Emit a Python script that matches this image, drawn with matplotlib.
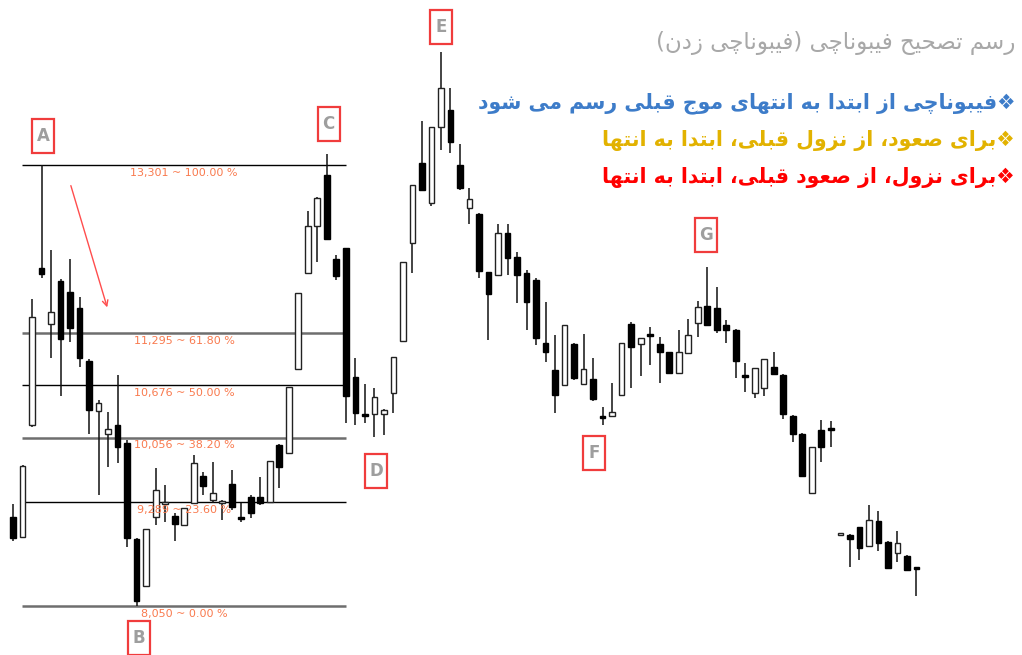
import numpy as np
import matplotlib
matplotlib.use("Agg")
import matplotlib.pyplot as plt
from matplotlib.patches import Rectangle

# candle data
opens = [9110, 8872, 10205, 12075, 11408, 11920, 11789, 11598, 10967, 10372,
         10098, 10205, 9991, 8848, 8288, 9110, 9265, 9122, 9015, 9276,
         9598, 9312, 9276, 9503, 9110, 9348, 9348, 9288, 9967, 9872,
         10872, 12015, 12575, 13182, 12182, 12313, 10777, 10336, 10336, 10336,
         10586, 11205, 12372, 13325, 12849, 13754, 13956, 13301, 12789, 12718,
         12027, 11991, 12491, 12206, 12015, 11932, 11182, 10860, 10681, 11170,
         10693, 10753, 10312, 10312, 10562, 11408, 11170, 11289, 11170, 11074,
         10824, 11062, 11420, 11622, 11598, 11396, 11336, 10789, 10586, 10646,
         10896, 10801, 10312, 10098, 9396, 10146, 10169, 8895, 8895, 8991,
         8764, 9062, 8812, 8681, 8645, 8503]
highs = [9265, 9729, 11705, 13301, 12289, 11944, 12182, 11729, 10991, 10503,
         10360, 10801, 10027, 8860, 8967, 9693, 9491, 9157, 9217, 9848,
         9646, 9765, 9312, 9669, 9276, 9372, 9586, 9777, 9979, 10658,
         11777, 12753, 12920, 13432, 12229, 12313, 11003, 10693, 10646, 10396,
         11015, 12146, 13063, 13825, 13754, 14647, 14218, 13551, 13027, 12730,
         12027, 12599, 12599, 12265, 12051, 11955, 11670, 11277, 11396, 11182,
         11289, 11003, 10420, 10705, 11182, 11432, 11241, 11372, 11253, 11074,
         11336, 11467, 11682, 12086, 11848, 11455, 11348, 10943, 10884, 10991,
         11074, 10812, 10324, 10110, 9943, 10265, 10253, 8895, 8907, 8991,
         9253, 9181, 8824, 8943, 8657, 8503]
lows = [8824, 8860, 10181, 11955, 11003, 10550, 11193, 10896, 10098, 9372,
        9705, 9753, 8753, 8050, 8276, 9015, 9050, 8824, 9003, 9276,
        9372, 9276, 9074, 9193, 9050, 9098, 9253, 9276, 9455, 9872,
        10872, 12015, 12146, 12420, 11932, 10229, 10205, 10229, 10062, 10086,
        10348, 11205, 12015, 13003, 12813, 13480, 13444, 13003, 12599, 11955,
        11217, 11979, 11991, 11658, 11336, 11158, 10955, 10348, 10681, 10741,
        10681, 10491, 10205, 10300, 10562, 10646, 10789, 10920, 10705, 10812,
        10812, 11062, 11253, 11384, 11301, 11182, 10765, 10598, 10527, 10550,
        10801, 10277, 10003, 9586, 9384, 9765, 9943, 8895, 8514, 8598,
        8764, 8705, 8491, 8574, 8467, 8169]
closes = [8860, 9717, 11491, 12003, 11551, 11229, 11360, 11003, 10384, 10467,
          10158, 9943, 8860, 8110, 8967, 9431, 9288, 9026, 9217, 9753,
          9479, 9396, 9300, 9229, 9086, 9157, 9276, 9777, 9705, 10658,
          11777, 12575, 12908, 12420, 11979, 10550, 10348, 10312, 10539, 10384,
          11015, 12146, 13063, 13003, 13754, 14218, 13575, 13027, 12896, 12039,
          11765, 12491, 12194, 11991, 11670, 11241, 11074, 10562, 11396, 10765,
          10872, 10515, 10289, 10360, 11182, 11134, 11241, 11265, 11074, 10824,
          11074, 11277, 11610, 11396, 11336, 11336, 10967, 10777, 10884, 10991,
          10812, 10336, 10098, 9598, 9943, 9943, 10146, 8895, 8848, 8741,
          9074, 8800, 8503, 8800, 8479, 8491]

# fibonacci levels
fib_prices = [13301, 11295, 10676, 10056, 9289, 8050]
fib_ratios = [100.00, 61.80, 50.00, 38.20, 23.60, 0.00]

# wave point labels: letter, candle index, label price
wave_letters = ["A", "B", "C", "D", "E", "F", "G"]
wave_x = [3.15, 13.25, 33.2, 38.2, 45.0, 61.1, 72.9]
wave_y = [13646, 7669, 13789, 9657, 14944, 9872, 12468]

title = "رسم تصحیح فیبوناچی (فیبوناچی زدن)"
notes = ["❖فیبوناچی از ابتدا به انتهای موج قبلی رسم می شود",
         "❖برای صعود، از نزول قبلی، ابتدا به انتها",
         "❖برای نزول، از صعود قبلی، ابتدا به انتها"]
note_colors = ["#3D7CC9", "#E2B200", "#FF0000"]

# --- simple persian shaping (matplotlib has no bidi / shaping) ---
FORMS = {
    'ا': ('\uFE8D', '\uFE8E', None, None),
    'ب': ('\uFE8F', '\uFE90', '\uFE91', '\uFE92'),
    'ت': ('\uFE95', '\uFE96', '\uFE97', '\uFE98'),
    'ج': ('\uFE9D', '\uFE9E', '\uFE9F', '\uFEA0'),
    'چ': ('\uFB7A', '\uFB7B', '\uFB7C', '\uFB7D'),
    'ح': ('\uFEA1', '\uFEA2', '\uFEA3', '\uFEA4'),
    'د': ('\uFEA9', '\uFEAA', None, None),
    'ر': ('\uFEAD', '\uFEAE', None, None),
    'ز': ('\uFEAF', '\uFEB0', None, None),
    'س': ('\uFEB1', '\uFEB2', '\uFEB3', '\uFEB4'),
    'ش': ('\uFEB5', '\uFEB6', '\uFEB7', '\uFEB8'),
    'ص': ('\uFEB9', '\uFEBA', '\uFEBB', '\uFEBC'),
    'ع': ('\uFEC9', '\uFECA', '\uFECB', '\uFECC'),
    'ف': ('\uFED1', '\uFED2', '\uFED3', '\uFED4'),
    'ق': ('\uFED5', '\uFED6', '\uFED7', '\uFED8'),
    'ل': ('\uFEDD', '\uFEDE', '\uFEDF', '\uFEE0'),
    'م': ('\uFEE1', '\uFEE2', '\uFEE3', '\uFEE4'),
    'ن': ('\uFEE5', '\uFEE6', '\uFEE7', '\uFEE8'),
    'ه': ('\uFEE9', '\uFEEA', '\uFEEB', '\uFEEC'),
    'و': ('\uFEED', '\uFEEE', None, None),
    'ی': ('\uFEEF', '\uFEF0', '\uFEF3', '\uFEF4'),
}
MIRROR = {'(': ')', ')': '('}


def fa(text):
    out = []
    for i, ch in enumerate(text):
        if ch not in FORMS:
            out.append(ch)
            continue
        prev = text[i - 1] if i > 0 else ''
        nxt = text[i + 1] if i + 1 < len(text) else ''
        j_prev = prev in FORMS and FORMS[prev][2] is not None
        j_next = nxt in FORMS and FORMS[ch][2] is not None
        iso, fin, ini, med = FORMS[ch]
        if j_prev and j_next:
            out.append(med)
        elif j_prev:
            out.append(fin)
        elif j_next:
            out.append(ini)
        else:
            out.append(iso)
    return ''.join(MIRROR.get(c, c) for c in reversed(out))


fig = plt.figure(figsize=(10.22, 6.55), dpi=100)
ax = fig.add_axes([0, 0, 1, 1])
ax.set_xlim(-1.367, 106.1)
ax.set_ylim(7466.5, 15265.6)
ax.axis("off")

o = np.array(opens); h = np.array(highs); l = np.array(lows); c = np.array(closes)
x = np.arange(len(o))
up = c >= o

ax.vlines(x, l, h, color="#111111", lw=1.1, zorder=1)
body_h = np.maximum(np.abs(c - o), 22)
body_b = np.minimum(o, c)
ax.bar(x[up], body_h[up], bottom=body_b[up], width=0.6, color="white",
       edgecolor="#222222", linewidth=1.0, zorder=2)
ax.bar(x[~up], body_h[~up], bottom=body_b[~up], width=0.6, color="black",
       edgecolor="black", linewidth=1.0, zorder=2)

# fibonacci lines
fib_x0, fib_x1 = 0.95, 35.0
for k, (p, r) in enumerate(zip(fib_prices, fib_ratios)):
    thick = k % 2 == 1
    ax.hlines(p, fib_x0, fib_x1, color="#6e6e6e" if thick else "black",
              lw=1.8 if thick else 1.0, zorder=0)
    ax.annotate(f"{p:,} ~ {r:.2f} %", (18.0, p), xytext=(0, -2),
                textcoords="offset points", ha="center", va="top",
                fontsize=8, color="#F97A4E", zorder=3)

# red arrow A -> down
ax.annotate("", xy=(9.99, 11574), xytext=(6.0, 13087),
            arrowprops=dict(arrowstyle="->", color="#FF4D4D", lw=1.0))

# wave letters in red boxes
bw, bh = 2.3, 405
for t, wx, wy in zip(wave_letters, wave_x, wave_y):
    ax.add_patch(Rectangle((wx - bw / 2, wy - bh / 2), bw, bh, fill=True,
                           facecolor="white", edgecolor="#F03C3C", lw=1.6, zorder=4))
    ax.text(wx, wy, t, ha="center", va="center", fontsize=12,
            color="#9E9E9E", fontweight="bold", zorder=5)

# persian notes
fig.text(1015 / 1022, 1 - 43 / 655, fa(title), ha="right", va="center",
         fontsize=16.5, color="#A8A8A8", family=["DejaVu Sans"])
for k, (t, col) in enumerate(zip(notes, note_colors)):
    fig.text(1015 / 1022, 1 - (103 + 37.5 * k) / 655, fa(t), ha="right",
             va="center", fontsize=14.8, fontweight="bold", color=col,
             family=["DejaVu Sans"])

fig.savefig("out.png", dpi=100)
